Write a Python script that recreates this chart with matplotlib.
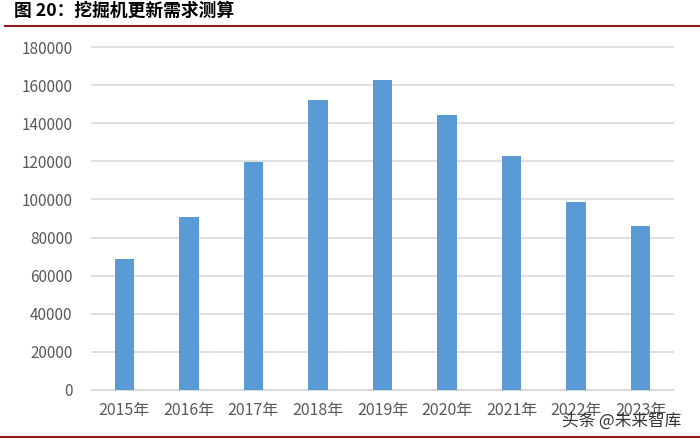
import numpy as np
import matplotlib
matplotlib.use("Agg")
import matplotlib.pyplot as plt
from matplotlib.lines import Line2D

plt.rcParams['font.family'] = ['Noto Sans CJK SC', 'DejaVu Sans']

# data
years = ['2015年', '2016年', '2017年', '2018年', '2019年',
         '2020年', '2021年', '2022年', '2023年']
demand = [68600, 90900, 119800, 152100, 162600, 144400, 123000, 98800, 85800]
yticks = np.arange(0, 180001, 20000)

fig = plt.figure(figsize=(7, 4.41), dpi=100)
ax = fig.add_axes([92/700, 1 - 389.7/441, (673 - 92)/700, (389.7 - 47.3)/441])

x = np.arange(len(years))
ax.bar(x, demand, width=0.3, color='#5B9BD5', zorder=3)

ax.set_xlim(-0.5, len(years) - 0.5)
ax.set_ylim(0, 180000)
ax.set_yticks(yticks)
ax.set_yticklabels([str(v) for v in yticks])
ax.set_xticks(x)
ax.set_xticklabels(years)
ax.tick_params(axis='both', length=0, colors='#595959')
ax.tick_params(axis='y', pad=14, labelsize=11)
ax.tick_params(axis='x', pad=9, labelsize=11.5)

ax.grid(axis='y', color='#D9D9D9', linewidth=1.2, zorder=0)
for gl in ax.get_ygridlines():
    gl.set_clip_on(False)
for s in ['top', 'right', 'left']:
    ax.spines[s].set_visible(False)
ax.spines['bottom'].set_color('#D9D9D9')
ax.spines['bottom'].set_linewidth(1.2)

# title and the red rules
fig.text(14/700, 1 - 11/441, '图 20：挖掘机更新需求测算', fontsize=12.8,
         fontweight='bold', color='black', va='center', ha='left')
fig.add_artist(Line2D([5/700, 1], [1 - 26/441] * 2, color='#8B1A1A', lw=1.5))
fig.add_artist(Line2D([0, 1], [1 - 437/441] * 2, color='#8B1A1A', lw=1.5))

# watermark
fig.text(562/700, 1 - 421/441, '头条 @未来智库', fontsize=12, color='#333333',
         va='center', ha='left')

fig.savefig('out.png', dpi=100)
